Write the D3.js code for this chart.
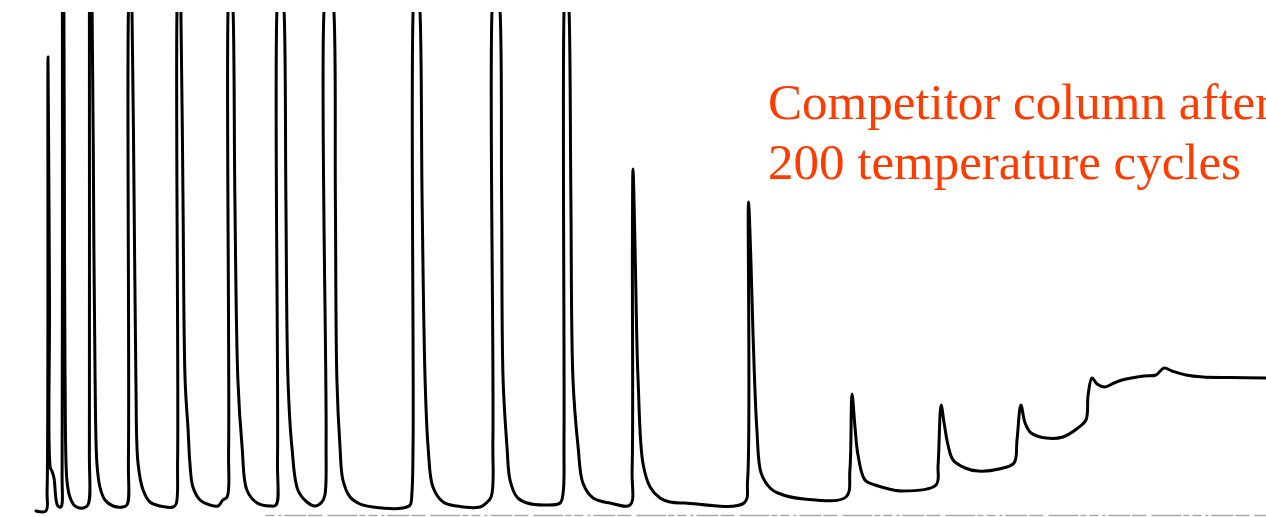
<!DOCTYPE html>
<html>
<head>
<meta charset="utf-8">
<script src="https://cdn.jsdelivr.net/npm/d3@7"></script>
<style>
  html, body { margin: 0; padding: 0; background: #fff; overflow: hidden; }
  svg { display: block; }
</style>
</head>
<body>
<div id="chromatogram"></div>
<script>
// retention time (min) , detector response (mV)
const solventFront = [[1.20,0],[1.53,0],[1.57,4.2],[1.60,90.8],[1.65,42.2],[1.68,8.6],[1.73,8.0],[1.80,6.6],[1.87,2.2],[1.93,1.0],[2.03,0.8]];
const peaks1to3 = [
  [2.07,8.2],[2.08,100],[2.10,110],[2.13,100],[2.15,52.2],[2.17,26.2],[2.23,6.2],[2.33,2.8],[2.50,1.0],[2.77,0.6],[2.93,1.2],
  [2.98,12.2],[2.98,100],[3.02,110],[3.07,100],[3.13,52.2],[3.17,26.2],[3.23,9.6],[3.33,4.8],[3.50,2.2],[3.77,1.0],[4.07,0.8],[4.23,1.2],
  [4.28,10.2],[4.28,100],[4.35,110],[4.40,100],[4.47,62.2],[4.53,26.2],[4.60,9.6],[4.77,4.2],[5.00,1.8],[5.33,1.0],[5.77,0.8],[5.87,1.4]
];
const peaks4to6 = [
  [5.92,10.2],[5.90,100],[5.97,110],[6.03,100],[6.10,62.2],[6.17,26.2],[6.27,16.2],[6.33,9.6],[6.43,4.8],[6.67,2.2],[7.00,1.2],[7.27,1.0],[7.43,2.2],[7.57,2.8],
  [7.62,12.2],[7.60,100],[7.68,110],[7.77,100],[7.83,62.2],[7.93,26.2],[8.07,12.8],[8.23,4.2],[8.57,1.6],[9.00,1.0],[9.20,1.2],
  [9.25,10.2],[9.23,100],[9.35,110],[9.47,100],[9.53,62.2],[9.60,26.2],[9.73,12.8],[9.93,4.2],[10.23,1.8],[10.50,1.0],[10.73,1.8],[10.83,3.2]
];
const peaks7to10 = [
  [10.87,14.2],[10.80,100],[10.97,110],[11.13,100],[11.18,62.2],[11.23,26.2],[11.33,13.2],[11.43,6.2],[11.67,2.8],[12.00,1.4],[12.43,0.8],[13.43,0.6],[13.67,1.2],[13.73,3.6],
  [13.77,14.2],[13.77,100],[13.88,110],[14.00,100],[14.07,62.2],[14.17,26.2],[14.27,12.8],[14.43,4.8],[14.77,1.8],[15.23,1.0],[16.00,0.8],[16.17,1.4],[16.37,2.8],
  [16.43,14.2],[16.40,100],[16.53,110],[16.67,100],[16.72,62.2],[16.77,26.2],[16.90,12.8],[17.00,6.2],[17.23,2.8],[17.57,1.6],[18.23,1.2],[18.67,1.6],[18.77,3.6],
  [18.80,14.2],[18.80,100],[18.88,110],[18.97,100],[19.03,62.2],[19.10,26.2],[19.27,12.8],[19.43,5.6],[19.77,2.6],[20.33,1.6],[21.00,1.2]
];
const latePeaks = [
  [21.07,8.2],[21.08,52.2],[21.10,68.4],[21.17,52.2],[21.22,36.2],[21.27,26.2],[21.43,9.6],[21.67,4.8],[22.00,2.6],[22.33,1.8],[22.83,1.6],[24.80,1.6],
  [24.92,6.2],[24.95,61.8],[25.03,50.2],[25.10,35.6],[25.23,16.2],[25.37,7.6],[25.67,4.6],[25.93,3.6],[26.80,2.4],[28.20,2.8],
  [28.33,8.2],[28.40,23.4],[28.50,16.8],[28.60,11.2],[28.83,6.2],[29.17,5.2],[29.50,4.6],[30.07,4.0],[31.20,5.2],
  [31.27,9.2],[31.37,21.2],[31.47,17.6],[31.60,13.2],[31.77,10.2],[32.17,8.6],[32.60,8.0],[33.30,8.4],[33.80,9.6]
];
const driftTail = [
  [33.90,14.2],[34.03,21.2],[34.17,17.6],[34.37,15.6],[34.87,14.6],[35.43,14.8],[35.93,16.6],[36.20,18.2],
  [36.27,23.2],[36.40,26.6],[36.57,25.4],[36.83,24.8],[37.13,25.6],[37.40,26.2],[38.13,27.0],[38.53,27.2],
  [38.80,28.6],[39.07,28.0],[39.53,27.2],[40.10,26.8],[41.00,26.7],[42.20,26.6]
];
const titleLines = ["Competitor column after", "200 temperature cycles"];

const width = 1266, height = 517;
const trace = [].concat(solventFront, peaks1to3, peaks4to6, peaks7to10, latePeaks, driftTail);

const xScale = d3.scaleLinear().domain([0, 42.2]).range([0, width]);
const yScale = d3.scaleLinear().domain([0, 100]).range([511, 11]);

const svg = d3.select('#chromatogram')
  .append('svg')
  .attr('width', width)
  .attr('height', height);

svg.append('clipPath')
  .attr('id', 'plotClip')
  .append('rect')
  .attr('x', 0)
  .attr('y', yScale(99.8))
  .attr('width', width)
  .attr('height', height);

// scanned baseline of the recorder paper
const paperScale = xScale.copy().domain([8.83, 42.2]).range([xScale(8.83), xScale(42.2)]);
const paperAxis = svg.append('g')
  .attr('transform', 'translate(0,515)')
  .call(d3.axisBottom(paperScale).tickValues([]).tickSizeOuter(0));
paperAxis.select('.domain')
  .attr('stroke', '#a8a8a8')
  .attr('stroke-width', 1.6)
  .attr('stroke-dasharray', '9,4,3,3,22,2,14,5,30,2,6,3');

const line = d3.line()
  .x(d => xScale(d[0]))
  .y(d => yScale(d[1]))
  .curve(d3.curveCatmullRom.alpha(0.5));

svg.append('path')
  .datum(trace)
  .attr('clip-path', 'url(#plotClip)')
  .attr('d', line)
  .attr('fill', 'none')
  .attr('stroke', '#000')
  .attr('stroke-width', 3)
  .attr('stroke-linejoin', 'round')
  .attr('stroke-linecap', 'round');

svg.append('text')
  .attr('font-family', '"Liberation Serif", "Times New Roman", serif')
  .attr('font-size', '51px')
  .attr('fill', '#ff3c00')
  .selectAll('tspan')
  .data(titleLines)
  .join('tspan')
  .attr('x', 768)
  .attr('y', (d, i) => 119 + i * 60)
  .text(d => d);
</script>
</body>
</html>
